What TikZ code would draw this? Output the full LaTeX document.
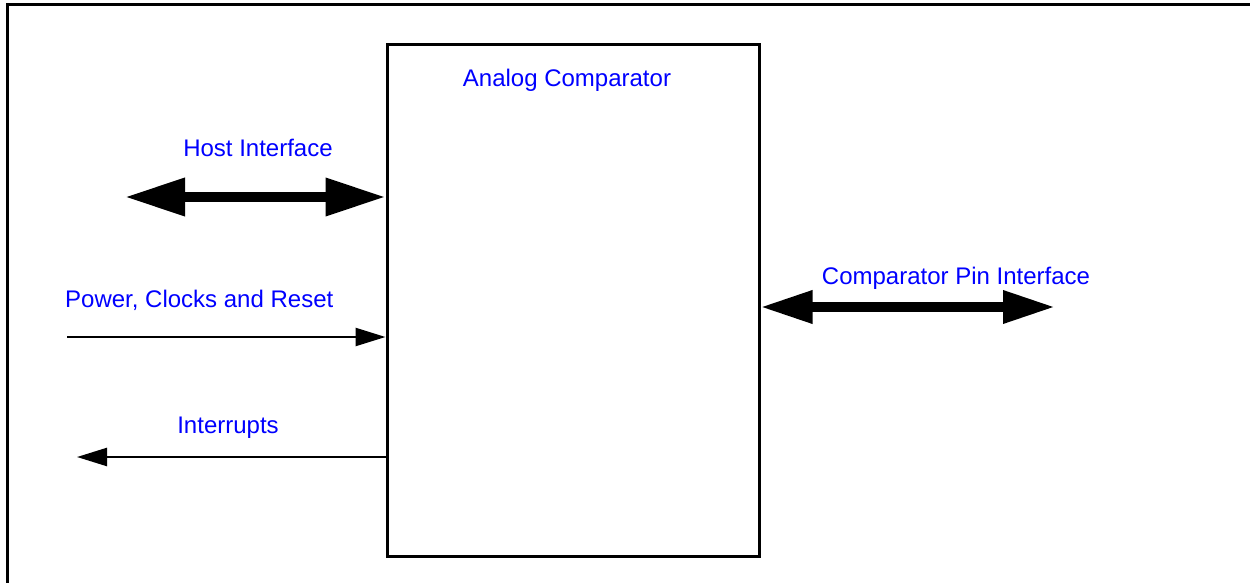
\documentclass[tikz,border=0pt]{standalone}
\usepackage{fontspec}
\setmainfont{Liberation Sans}
\usetikzlibrary{arrows.meta}
\begin{document}
\begin{tikzpicture}[x=1pt,y=-1pt,
  lbl/.style={text=blue,font=\fontsize{24}{28}\selectfont,inner sep=0pt},
  bigarrow/.style={line width=10pt,{Triangle[length=60pt,width=36pt]}-{Triangle[length=60pt,width=36pt]}},
  pinarrow/.style={line width=9.5pt,{Triangle[length=52pt,width=31pt]}-{Triangle[length=52pt,width=31pt]}},
  thinarrow/.style={line width=2.4pt,-{Triangle[length=30pt,width=18pt]}}]
\useasboundingbox (0,0) rectangle (1250,583);
\draw[line width=3pt] (7,583) -- (7,5) -- (1250,5);
\node[draw,line width=3pt,minimum width=372pt,minimum height=511pt,inner sep=0pt] (box) at (573,300.5) {};
\node[lbl] (title) at (567,80) {Analog Comparator};
% host interface
\coordinate (hl) at (125,197);
\draw[bigarrow] (hl) -- (box.west |- hl);
\node[lbl] (hostlbl) at (258,148) {Host Interface};
% power
\coordinate (pl) at (67,337);
\draw[thinarrow] (pl) -- (box.west |- pl);
\node[lbl,anchor=west] (powlbl) at (65,300) {Power, Clocks and Reset};
% interrupts
\coordinate (il) at (77,457);
\draw[thinarrow] (box.west |- il) -- (il);
\node[lbl] (intlbl) at (228,428) {Interrupts};
% pin interface
\coordinate (pr) at (1055,307);
\draw[pinarrow] (box.east |- pr) -- (pr);
\node[lbl] (pinlbl) at (956,278) {Comparator Pin Interface};
\end{tikzpicture}
\end{document}
